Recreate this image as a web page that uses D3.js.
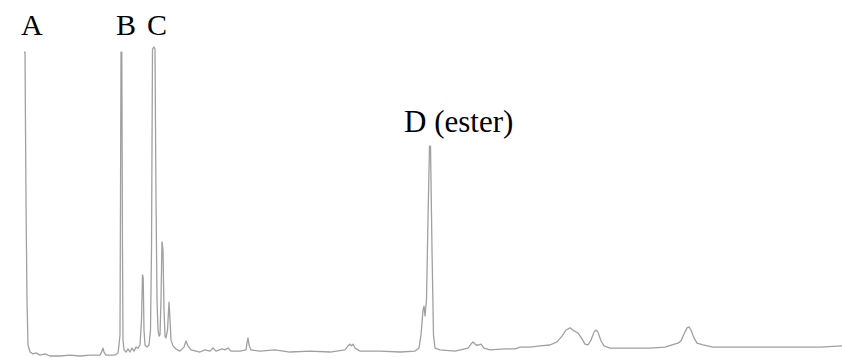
<!DOCTYPE html>
<html>
<head>
<meta charset="utf-8">
<script src="https://cdn.jsdelivr.net/npm/d3@7"></script>
<style>
  body { margin: 0; background: #fff; }
  svg { display: block; }
  .label { font-family: "Times New Roman", Times, "Liberation Serif", "DejaVu Serif", serif; }
</style>
</head>
<body>
<div id="chart"></div>
<script>
// retention time (min) and detector signal (% of full scale)
let time = [
  0.2, 0.25, 0.3, 0.35, 0.4, 0.5, 0.65, 0.8, 1.0, 1.25,
  1.5, 2.0, 2.5, 3.0, 3.5, 4.0, 4.1, 4.15, 4.2, 4.3,
  4.75, 4.9, 4.95, 5.0, 5.025, 5.05, 5.09, 5.125, 5.15, 5.2,
  5.3, 5.4, 5.5, 5.6, 5.7, 5.8, 5.9, 6.0, 6.075, 6.125,
  6.16, 6.2, 6.25, 6.35, 6.45, 6.525, 6.575, 6.625, 6.7, 6.75,
  6.8, 6.85, 6.9, 6.95, 7.0, 7.05, 7.1, 7.15, 7.2, 7.25,
  7.3, 7.375, 7.45, 7.5, 7.55, 7.65, 7.8, 8.0, 8.2, 8.3,
  8.4, 8.55, 8.8, 9.0, 9.25, 9.5, 9.65, 9.8, 10.1, 10.25,
  10.4, 10.55, 11.0, 11.3, 11.35, 11.4, 11.45, 11.55, 12.0, 12.75,
  13.5, 14.5, 15.5, 16.25, 16.4, 16.5, 16.575, 16.65, 16.75, 17.0,
  18.0, 19.0, 19.75, 19.95, 20.05, 20.15, 20.2, 20.25, 20.325, 20.4,
  20.475, 20.525, 20.6, 20.675, 20.75, 21.0, 21.75, 22.4, 22.55, 22.65,
  22.8, 22.95, 23.05, 23.2, 23.5, 24.25, 24.75, 25.0, 25.5, 26.0,
  26.5, 26.85, 27.1, 27.3, 27.5, 27.7, 27.9, 28.1, 28.25, 28.4,
  28.55, 28.7, 28.8, 28.9, 29.05, 29.2, 29.5, 30.5, 31.5, 32.25,
  32.6, 32.9, 33.05, 33.2, 33.35, 33.45, 33.55, 33.7, 33.85, 34.15,
  34.65, 36.0, 38.0, 40.0, 41.1
];
let signal = [
  99.3, 99.3, 51.0, 18.3, 3.6, 1.3, 0.7, 1.0, 0.3, 0.7,
  0.0, 0.0, 0.3, 0.0, 0.3, 0.3, 1.6, 2.6, 1.3, 0.3,
  0.3, 1.0, 3.6, 6.9, 51.0, 99.3, 99.3, 34.0, 5.2, 2.0,
  1.3, 2.3, 1.3, 2.6, 1.6, 2.9, 2.6, 3.6, 11.8, 26.5,
  25.5, 8.5, 3.6, 2.9, 3.6, 8.5, 34.6, 100.3, 101.0, 100.3,
  51.3, 18.3, 8.5, 6.5, 6.9, 18.3, 37.3, 34.6, 15.0, 6.5,
  5.9, 8.5, 17.6, 11.8, 5.2, 3.3, 2.3, 1.6, 2.9, 4.9,
  3.3, 2.0, 1.6, 1.3, 2.0, 1.6, 2.6, 1.6, 2.3, 2.0,
  2.6, 1.6, 1.6, 2.0, 4.2, 5.9, 3.6, 2.0, 1.6, 2.0,
  1.3, 1.6, 1.3, 2.0, 3.3, 3.9, 3.3, 3.9, 2.6, 1.6,
  1.6, 1.3, 1.6, 2.6, 6.9, 15.0, 16.3, 13.1, 18.3, 44.4,
  68.6, 68.6, 34.6, 6.9, 2.6, 2.0, 1.6, 2.6, 3.9, 4.6,
  3.6, 3.6, 3.9, 2.6, 2.0, 2.3, 2.3, 2.9, 2.9, 3.3,
  3.6, 4.6, 6.5, 8.5, 9.2, 8.2, 7.5, 5.6, 3.9, 3.6,
  5.2, 7.8, 8.5, 7.8, 4.9, 3.3, 2.6, 2.6, 2.6, 2.9,
  3.6, 4.2, 4.9, 7.2, 9.2, 9.5, 8.5, 5.9, 4.2, 3.6,
  2.9, 2.9, 2.9, 2.9, 3.3
];

// peak labels: text, retention time of the label's left edge, signal level of its baseline
let peakNames = ["A", "B", "C", "D (ester)"];
let peakLabelTime = [0.05, 4.8, 6.35, 19.2];
let peakLabelLevel = [104.9, 104.9, 104.9, 73.2];

const width = 842;
const height = 358;

const svg = d3.select("#chart").append("svg")
  .attr("width", width)
  .attr("height", height);

// x: retention time -> pixels, y: signal -> pixels (the original has no axes)
const x = d3.scaleLinear().domain([0, 41]).range([20, 840]);
const y = d3.scaleLinear().domain([0, 100]).range([356, 50]);

const points = time.map((t, i) => [t, signal[i]]);

const line = d3.line()
  .x(d => x(d[0]))
  .y(d => y(d[1]));

svg.append("path")
  .attr("d", line(points))
  .attr("fill", "none")
  .attr("stroke", "#a0a0a0")
  .attr("stroke-width", 1.3)
  .attr("stroke-linejoin", "round");

svg.selectAll("text.label")
  .data(peakNames)
  .enter().append("text")
  .attr("class", "label")
  .attr("fill", "#000")
  .attr("x", (d, i) => x(peakLabelTime[i]))
  .attr("y", (d, i) => y(peakLabelLevel[i]))
  .attr("font-size", (d, i) => i < 3 ? 30 : 31)
  .text(d => d);
</script>
</body>
</html>
